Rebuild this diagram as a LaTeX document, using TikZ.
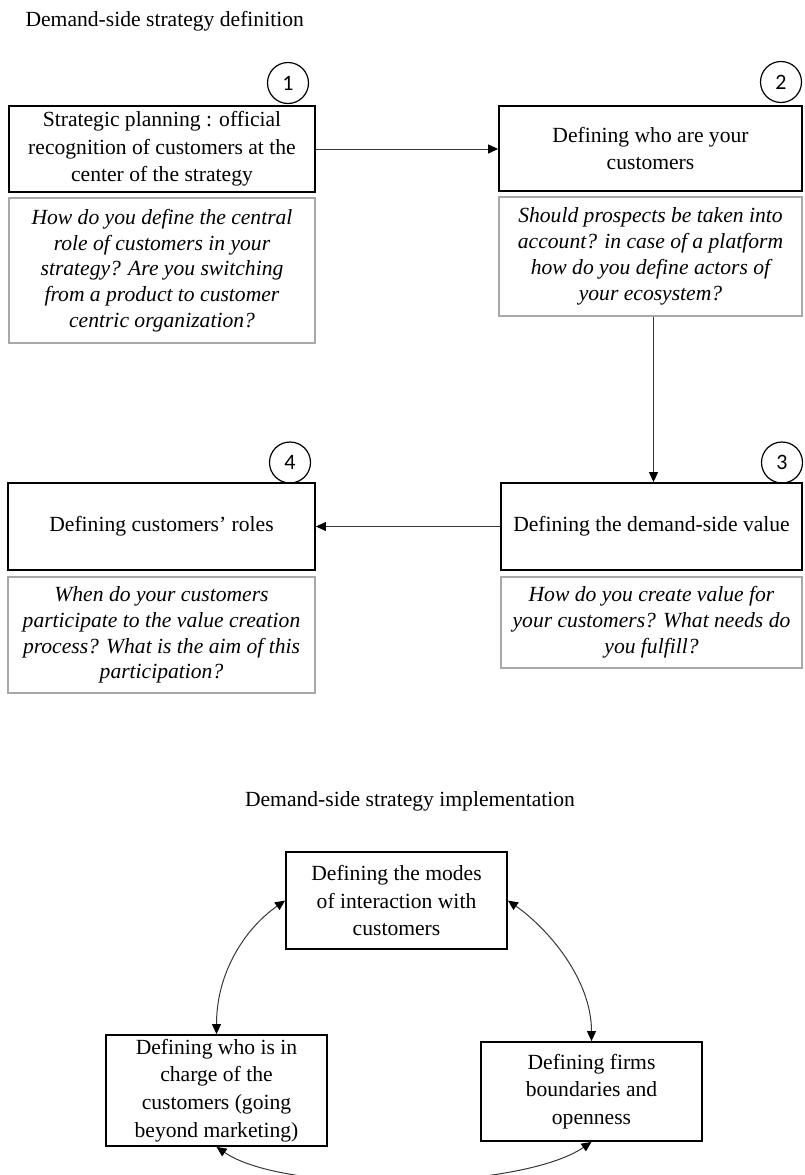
\documentclass[tikz,border=0pt]{standalone}
\usepackage{fontspec}
\setmainfont{Liberation Serif}
\newfontfamily\numfont{Carlito}
\usepackage{tikz}
\usetikzlibrary{arrows.meta,calc}
\definecolor{qgray}{RGB}{168,168,168}
\definecolor{lnkgray}{RGB}{55,55,55}
\newcommand{\boxfont}{\fontsize{21.6pt}{27.7pt}\selectfont}
\newcommand{\qfont}{\fontsize{21.6pt}{25.8pt}\selectfont\itshape}

\begin{document}
\begin{tikzpicture}[x=1pt,y=-1pt,
  stagebox/.style={draw=black,line width=1.8pt,align=center,inner sep=0pt,font=\boxfont},
  qbox/.style={draw=qgray,line width=1.8pt,align=center,inner sep=0pt,font=\qfont},
  numcirc/.style={circle,draw=black,line width=1.2pt,minimum size=41pt,inner sep=0pt,
    font=\numfont\fontsize{22pt}{24pt}\selectfont},
  link/.style={lnkgray,line width=1pt,-{Triangle[length=10pt,width=9pt,color=black]}},
  twolink/.style={lnkgray,line width=1pt,
    {Triangle[length=10pt,width=9pt,color=black]}-{Triangle[length=10pt,width=9pt,color=black]}}]
  \useasboundingbox (0,0) rectangle (804,1175);

  % definition
  \node[anchor=base west,font=\boxfont] (deftitle) at (22,27) {Demand-side strategy definition};

  \node[stagebox,minimum width=306,minimum height=86] (plan) at (162,149)
    {Strategic planning : official\\recognition of customers at the\\center of the strategy};
  \node[qbox,minimum width=306,minimum height=145] (plannote) at (162,270.5)
    {How do you define the central\\role of customers in your\\strategy? Are you switching\\from a product to customer\\centric organization?};
  \node[numcirc] (n1) at (288,83) {1};

  \node[stagebox,minimum width=303,minimum height=85] (who) at (650.5,148.5)
    {Defining who are your\\customers};
  \node[qbox,minimum width=303,minimum height=119] (whonote) at (650.5,256.5)
    {Should prospects be taken into\\account? in case of a platform\\how do you define actors of\\your ecosystem?};
  \node[numcirc] (n2) at (781,82) {2};

  \node[stagebox,minimum width=301,minimum height=87] (value) at (651.5,526.5)
    {Defining the demand-side value};
  \node[qbox,minimum width=301,minimum height=91] (valuenote) at (651.5,622.5)
    {How do you create value for\\your customers? What needs do\\you fulfill?};
  \node[numcirc] (n3) at (782,462.5) {3};

  \node[stagebox,minimum width=307,minimum height=87] (roles) at (161.5,526.5)
    {Defining customers’ roles};
  \node[qbox,minimum width=307,minimum height=116] (rolesnote) at (161.5,635)
    {When do your customers\\participate to the value creation\\process? What is the aim of this\\participation?};
  \node[numcirc] (n4) at (290,462.5) {4};

  \coordinate (drop) at ($(whonote.south)+(3,0)$);
  \draw[link] (plan.east) -- (plan.east -| who.west);
  \draw[link] (drop) -- (drop |- value.north);
  \draw[link] (value.west) -- (value.west -| roles.east);

  % implementation
  \node[anchor=base,font=\boxfont] (imptitle) at (410,806) {Demand-side strategy implementation};

  \node[stagebox,minimum width=221,minimum height=97] (modes) at (396.5,900.5)
    {Defining the modes\\of interaction with\\customers};
  \node[stagebox,minimum width=221,minimum height=111] (charge) at (216.5,1090.5)
    {Defining who is in\\charge of the\\customers (going\\beyond marketing)};
  \node[stagebox,minimum width=221,minimum height=99] (firms) at (591.5,1091.5)
    {Defining firms\\boundaries and\\openness};

  \draw[twolink] (modes.west) .. controls +(-40,28) and +(0,-62) .. (charge.north);
  \draw[twolink] (modes.east) .. controls +(40,28) and +(0,-62) .. (firms.north);
  \draw[twolink] (charge.south) .. controls +(70,48) and +(-70,48) .. (firms.south);
\end{tikzpicture}
\end{document}
